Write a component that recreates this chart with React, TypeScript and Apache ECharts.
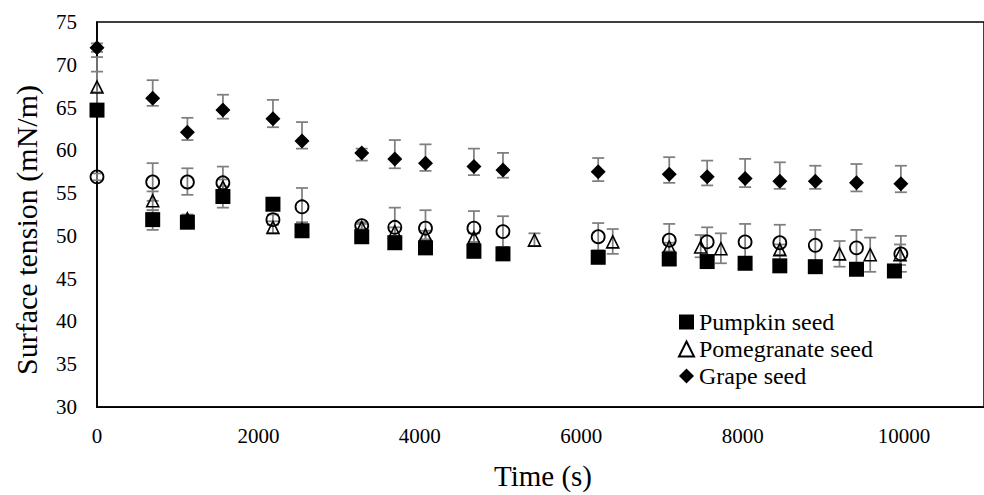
import React, { useEffect, useRef } from "react";
import * as echarts from "echarts";

// Sampling times (s) per sample
const pumpkinTime = [0, 690, 1120, 1560, 2180, 2540, 3280, 3690, 4070, 4670, 5030, 6210, 7090, 7560, 8030, 8460, 8900, 9410, 9880];
const pomegranateTime = [0, 690, 1120, 1560, 2180, 2540, 3280, 3690, 4070, 4670, 5420, 6390, 7090, 7480, 7730, 8460, 9200, 9580, 9950];
const grapeTime = [0, 690, 1120, 1560, 2180, 2540, 3280, 3690, 4070, 4670, 5030, 6210, 7090, 7560, 8030, 8460, 8900, 9410, 9960];
const otherTime = [0, 690, 1120, 1560, 2180, 2540, 3280, 3690, 4070, 4670, 5030, 6210, 7090, 7560, 8030, 8460, 8900, 9410, 9960];

// Surface tension (mN/m)
const pumpkinValue = [64.7, 51.9, 51.6, 54.6, 53.7, 50.6, 49.9, 49.2, 48.6, 48.2, 47.9, 47.5, 47.3, 47.0, 46.8, 46.5, 46.4, 46.1, 45.9];
const pumpkinLow = [64.2, 50.7, 51.2, 53.3, 53.2, 50.1, 49.5, 48.8, 48.2, 47.8, 47.5, 47.1, 46.9, 46.4, 46.4, 46.1, 46.0, 45.7, 45.5];
const pumpkinHigh = [69.2, 53.0, 52.4, 55.8, 54.3, 51.2, 50.4, 49.7, 49.1, 48.7, 48.4, 48.0, 47.8, 47.6, 47.3, 47.0, 46.9, 46.6, 46.4];

const pomegranateValue = [67.4, 54.1, 52.0, 55.7, 51.0, 50.8, 51.0, 50.5, 50.1, 49.8, 49.5, 49.3, 48.7, 48.7, 48.5, 48.4, 47.9, 47.8, 47.8];
const pomegranateLow = [66.8, 53.0, 51.5, 54.8, 50.3, 50.3, 50.6, 50.0, 49.6, 49.3, 48.8, 47.9, 48.2, 47.5, 46.8, 47.8, 46.4, 45.8, 46.6];
const pomegranateHigh = [70.9, 55.2, 52.5, 56.6, 51.7, 51.3, 51.4, 51.0, 50.6, 50.3, 50.3, 50.8, 49.2, 50.1, 50.3, 49.0, 49.4, 49.8, 49.0];

const grapeValue = [72.0, 66.1, 62.1, 64.7, 63.7, 61.1, 59.7, 59.0, 58.5, 58.1, 57.7, 57.5, 57.2, 56.9, 56.7, 56.4, 56.4, 56.2, 56.1];
const grapeLow = [71.5, 65.2, 61.2, 63.7, 62.7, 60.2, 58.8, 57.9, 57.6, 57.1, 56.8, 56.4, 56.2, 55.9, 55.7, 55.5, 55.5, 55.2, 55.1];
const grapeHigh = [72.5, 68.2, 63.8, 66.5, 65.9, 63.3, 60.2, 61.2, 60.7, 60.2, 59.7, 59.1, 59.2, 58.8, 59.0, 58.6, 58.2, 58.4, 58.2];

const otherValue = [56.9, 56.3, 56.3, 56.2, 51.9, 53.4, 51.2, 51.0, 50.9, 50.9, 50.5, 49.9, 49.5, 49.3, 49.3, 49.2, 48.9, 48.6, 47.9];
const otherLow = [56.5, 54.1, 54.8, 54.3, 51.3, 51.6, 50.8, 48.7, 48.8, 48.9, 48.7, 48.3, 47.6, 47.6, 47.2, 47.1, 47.1, 46.5, 45.8];
const otherHigh = [57.3, 58.5, 57.9, 58.1, 52.5, 55.6, 51.6, 53.3, 53.0, 52.9, 52.3, 51.5, 51.4, 51.0, 51.4, 51.3, 50.7, 50.7, 50.0];

const legendNames = ["Pumpkin seed", "Pomegranate seed", "Grape seed"];

const FONT = "'Liberation Serif', 'Times New Roman', serif";

const points = (t: number[], v: number[]) => t.map((x, i) => [x, v[i]]);
const ranges = (t: number[], lo: number[], hi: number[]) => t.map((x, i) => [x, lo[i], hi[i]]);

const errorBars = (name: string, data: number[][]) => ({
  name,
  type: "custom",
  silent: true,
  z: 1,
  encode: { x: 0, y: [1, 2] },
  data,
  renderItem: (_params: any, api: any) => {
    const x = api.value(0);
    const lo = api.coord([x, api.value(1)]);
    const hi = api.coord([x, api.value(2)]);
    const w = 6;
    const style = { stroke: "#7f7f7f", lineWidth: 1.75 };
    return {
      type: "group",
      children: [
        { type: "line", shape: { x1: lo[0], y1: lo[1], x2: hi[0], y2: hi[1] }, style },
        { type: "line", shape: { x1: lo[0] - w, y1: lo[1], x2: lo[0] + w, y2: lo[1] }, style },
        { type: "line", shape: { x1: hi[0] - w, y1: hi[1], x2: hi[0] + w, y2: hi[1] }, style },
      ],
    };
  },
});

export default function App() {
  const ref = useRef<HTMLDivElement>(null);

  useEffect(() => {
    if (!ref.current) return;
    const chart = echarts.init(ref.current, undefined, { renderer: "svg" });
    const axisLine = { show: true, onZero: false, lineStyle: { color: "#000", width: 1.75 } };
    chart.setOption({
      animation: false,
      backgroundColor: "#fff",
      // plot frame: the right edge sits just past the page so only top/left/bottom show
      grid: {
        left: 97,
        right: -3,
        top: 22,
        bottom: 88,
        containLabel: false,
        show: true,
        borderColor: "#000",
        borderWidth: 1.5,
        backgroundColor: "transparent",
      },
      xAxis: {
        type: "value",
        min: 0,
        max: 10990,
        interval: 2000,
        axisLine,
        axisTick: { show: false },
        splitLine: { show: false },
        axisLabel: {
          showMaxLabel: false,
          margin: 18,
          color: "#000",
          fontFamily: FONT,
          fontSize: 21,
          formatter: (v: number) => String(v),
        },
      },
      yAxis: {
        type: "value",
        min: 30,
        max: 75,
        interval: 5,
        axisLine,
        axisTick: { show: false },
        splitLine: { show: false },
        axisLabel: { margin: 20, color: "#000", fontFamily: FONT, fontSize: 21 },
      },
      legend: {
        data: legendNames,
        orient: "vertical",
        left: 678,
        top: 310,
        padding: 0,
        itemGap: 3,
        itemWidth: 15,
        itemHeight: 15,
        selectedMode: false,
        textStyle: { color: "#000", fontFamily: FONT, fontSize: 24 },
      },
      graphic: [
        {
          type: "text",
          x: 26,
          y: 230,
          rotation: Math.PI / 2,
          style: {
            text: "Surface tension (mN/m)",
            fontFamily: FONT,
            fontSize: 30,
            fill: "#000",
            textAlign: "center",
            textVerticalAlign: "middle",
          },
        },
        {
          type: "text",
          x: 543,
          y: 476,
          style: {
            text: "Time (s)",
            fontFamily: FONT,
            fontSize: 29,
            fill: "#000",
            textAlign: "center",
            textVerticalAlign: "middle",
          },
        },
      ],
      series: [
        errorBars("Pumpkin seed SD", ranges(pumpkinTime, pumpkinLow, pumpkinHigh)),
        errorBars("Pomegranate seed SD", ranges(pomegranateTime, pomegranateLow, pomegranateHigh)),
        errorBars("Grape seed SD", ranges(grapeTime, grapeLow, grapeHigh)),
        errorBars("Other SD", ranges(otherTime, otherLow, otherHigh)),
        {
          name: "Pumpkin seed",
          type: "scatter",
          z: 2,
          symbol: "rect",
          symbolSize: 15,
          itemStyle: { color: "#000", opacity: 1 },
          data: points(pumpkinTime, pumpkinValue),
        },
        {
          name: "Pomegranate seed",
          type: "scatter",
          z: 3,
          symbol: "triangle",
          symbolSize: 12,
          itemStyle: { color: "rgba(255,255,255,0)", borderColor: "#000", borderWidth: 1.6, opacity: 1 },
          data: points(pomegranateTime, pomegranateValue),
        },
        {
          name: "Grape seed",
          type: "scatter",
          z: 4,
          symbol: "diamond",
          symbolSize: 15,
          itemStyle: { color: "#000", opacity: 1 },
          data: points(grapeTime, grapeValue),
        },
        {
          name: "Other",
          type: "scatter",
          z: 5,
          symbol: "circle",
          symbolSize: 13,
          itemStyle: { color: "rgba(255,255,255,0)", borderColor: "#000", borderWidth: 1.8, opacity: 1 },
          data: points(otherTime, otherValue),
        },
      ],
    });
    return () => chart.dispose();
  }, []);

  return (
    <div
      ref={ref}
      style={{ position: "absolute", left: 0, top: 0, width: 984, height: 495 }}
    />
  );
}
